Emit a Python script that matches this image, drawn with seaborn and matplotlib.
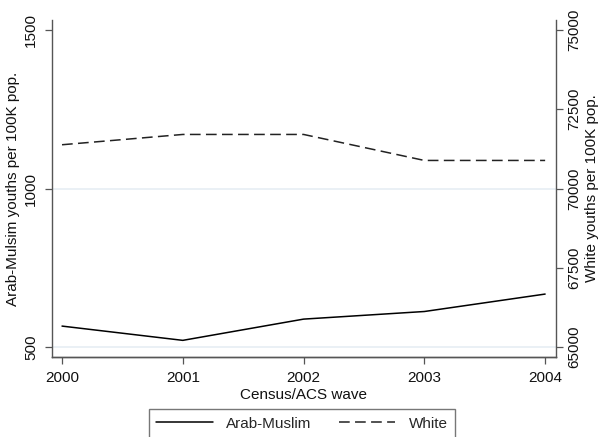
import matplotlib
matplotlib.use("Agg")
import matplotlib.pyplot as plt
import seaborn as sns
import pandas as pd

years = [2000, 2001, 2002, 2003, 2004]
arab_muslim = [566, 521, 588, 612, 667]
white = [71380, 71705, 71705, 70885, 70885]
left_ticks = [500, 1000, 1500]
right_ticks = [65000, 67500, 70000, 72500, 75000]
grid_vals = [500, 1000]

sns.set_theme(style="white")
plt.rcParams['font.family'] = ['Liberation Sans', 'DejaVu Sans']

df = pd.DataFrame({"year": years, "arab": arab_muslim, "white": white})

fig = plt.figure(figsize=(5.98, 4.37), dpi=100)
ax = fig.add_axes([52/598, 1-357/437, (556-52)/598, (357-20)/437])
ax2 = ax.twinx()

spine_col = "#555555"
for g in grid_vals:
    ax.axhline(g, color="#e6eef4", lw=1.2, zorder=0)

sns.lineplot(data=df, x="year", y="arab", ax=ax, color="black", lw=1.1,
             label="Arab-Muslim", legend=False)
sns.lineplot(data=df, x="year", y="white", ax=ax2, color="#222222", lw=1.1,
             label="White", legend=False, dashes=False)
ax2.lines[0].set_dashes((7, 3.5))

ax.set_xlim(1999.917, 2004.09)
ax.set_ylim(468.5, 1531.5)
ax2.set_ylim(64685, 75315)
ax.set_xticks(years)
ax.set_yticks(left_ticks)
ax2.set_yticks(right_ticks)
ax.set_xticklabels([str(y) for y in years])
ax.set_yticklabels([str(v) for v in left_ticks], rotation=90, va="center")
ax2.set_yticklabels([str(v) for v in right_ticks], rotation=90, va="center")

fs = 11
for a in (ax, ax2):
    a.tick_params(axis="both", direction="out", length=5, width=0.9,
                  color=spine_col, labelsize=fs, labelcolor="#111111")
    a.spines["top"].set_visible(False)
    for s in ("left", "right", "bottom"):
        a.spines[s].set_color(spine_col)
        a.spines[s].set_linewidth(1.0)
ax.tick_params(axis="x", pad=5)
ax.tick_params(axis="y", pad=5)
ax2.tick_params(axis="y", pad=3)
ax.tick_params(left=True, bottom=True)
ax2.tick_params(right=True)
ax.spines["right"].set_visible(False)
ax2.spines["left"].set_visible(False)

ax.set_xlabel("Census/ACS wave", fontsize=fs, labelpad=2, color="#111111")
ax.set_ylabel("Arab-Mulsim youths per 100K pop.", fontsize=fs, labelpad=3, color="#111111")
ax2.set_ylabel("White youths per 100K pop.", fontsize=fs, labelpad=3, color="#111111", rotation=90)

h1 = ax.lines[-1]
h2 = ax2.lines[0]
leg = fig.legend([h1, h2], ["Arab-Muslim", "White"], ncol=2, loc="upper center",
                 bbox_to_anchor=(302/598, 1-409/437), borderaxespad=0,
                 frameon=True, fancybox=False,
                 edgecolor=spine_col, fontsize=fs, handlelength=3.7, columnspacing=1.75,
                 borderpad=0.5, handletextpad=0.9)
leg.get_frame().set_linewidth(1.0)

fig.savefig("out.png", dpi=100)
